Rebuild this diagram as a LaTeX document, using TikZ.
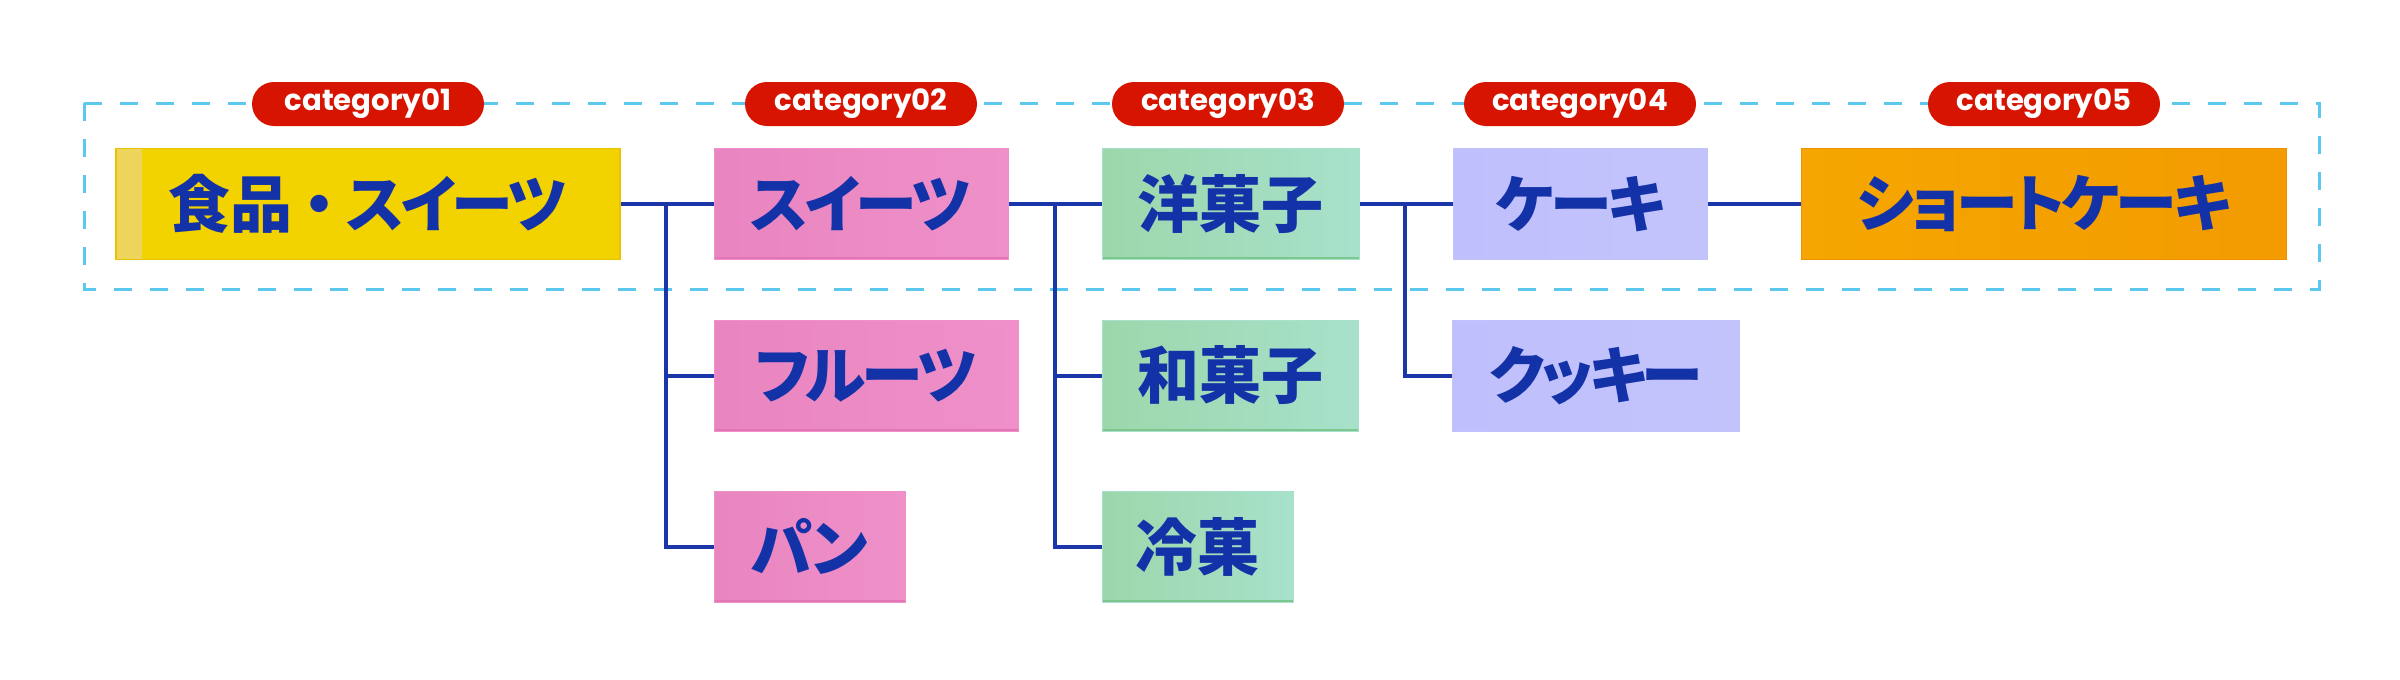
\documentclass[tikz,border=0pt]{standalone}
\usepackage{fontspec}
\newfontfamily\jpfont{Noto Sans CJK JP}[RawFeature=+palt]
\newfontfamily\jpkana{Noto Sans CJK JP}[RawFeature=+palt, LetterSpace=-6]
\newfontfamily\jpfull{Noto Sans CJK JP}
\newfontfamily\catfont{Poppins}
\definecolor{txtblue}{HTML}{1432A8}
\definecolor{linkblue}{HTML}{1A36A8}
\definecolor{dashcyan}{HTML}{5CC8EE}
\definecolor{pillred}{HTML}{D61400}
\definecolor{ylwA}{HTML}{EDD45E}
\definecolor{ylwB}{HTML}{F2D300}
\definecolor{ylwD}{HTML}{E9C300}
\definecolor{pnkA}{HTML}{E985C0}
\definecolor{pnkB}{HTML}{EF90C9}
\definecolor{pnkD}{HTML}{E475B4}
\definecolor{grnA}{HTML}{9CD7AB}
\definecolor{grnB}{HTML}{A7E1CB}
\definecolor{grnD}{HTML}{7DC78F}
\definecolor{lavA}{HTML}{BFBFFD}
\definecolor{lavB}{HTML}{C3C3FC}
\definecolor{orgA}{HTML}{F5A600}
\definecolor{orgB}{HTML}{F39B00}
\definecolor{orgD}{HTML}{EE9300}
\tikzset{
  tbox/.style={rectangle, inner sep=0pt, minimum height=55.5pt,
    font=\jpfont\bfseries\fontsize{31pt}{36pt}\selectfont, text=txtblue},
  btm/.style={path picture={\draw[line width=1.2pt,#1]
    ([yshift=0.6pt]path picture bounding box.south west) --
    ([yshift=0.6pt]path picture bounding box.south east);}},
  yellowbox/.style={tbox, fill=ylwB, draw=ylwD, line width=0.6pt,
    path picture={\shade[left color=ylwA, right color=ylwB]
      (path picture bounding box.south west) rectangle
      ([xshift=13pt]path picture bounding box.north west);}},
  pinkbox/.style={tbox, left color=pnkA, right color=pnkB, draw=pnkB, line width=0.5pt, btm=pnkD},
  greenbox/.style={tbox, left color=grnA, right color=grnB, draw=grnB, line width=0.5pt, btm=grnD},
  lavbox/.style={tbox, left color=lavA, right color=lavB, draw=lavB, line width=0.5pt},
  orangebox/.style={tbox, left color=orgA, right color=orgB, draw=orgD, line width=0.5pt},
  pill/.style={rectangle, rounded corners=11pt, fill=pillred, text=white,
    minimum width=116pt, minimum height=22pt, inner sep=0pt,
    font=\catfont\bfseries\fontsize{14.6pt}{16pt}\selectfont},
  link/.style={draw=linkblue, line width=2pt, line join=miter},
  frame/.style={draw=dashcyan, line width=1.5pt, dash pattern=on 9pt off 9pt}
}
\begin{document}
\begin{tikzpicture}[x=0.5pt, y=-0.5pt]
\useasboundingbox (0,0) rectangle (2400,680);
% dashed frame
\draw[frame] (84,103) rectangle (2319,289);
% pills
\node[pill] (c1) at (368,104) {category01};
\node[pill] (c2) at (861,104) {category02};
\node[pill] (c3) at (1228,104) {category03};
\node[pill] (c4) at (1580,104) {category04};
\node[pill] (c5) at (2044,104) {category05};
% boxes
\node[yellowbox, minimum width=252pt] (A) at (368,204) {食品\kern-2pt{\jpfull ・}\kern-2pt{\jpkana スイーツ}};
\node[pinkbox, minimum width=147pt] (B) at (861,204) {\jpkana スイーツ};
\node[pinkbox, minimum width=152pt] (C) at (866,375.5) {\jpkana フルーツ};
\node[pinkbox, minimum width=95.5pt] (D) at (809.5,546.5) {\jpkana パン};
\node[greenbox, minimum width=128.5pt] (E) at (1230.5,204) {洋菓子};
\node[greenbox, minimum width=128pt] (F) at (1230,375.5) {和菓子};
\node[greenbox, minimum width=95.5pt] (G) at (1197.5,546.5) {冷菓};
\node[lavbox, minimum width=127pt] (H) at (1580,204) {\jpkana ケーキ};
\node[lavbox, minimum width=143.5pt] (I) at (1596,375.5) {\jpkana クッキー};
\node[orangebox, minimum width=242.5pt] (J) at (2043.5,204) {\jpkana ショートケーキ};
% junctions
\coordinate (j1) at (666,204);
\coordinate (j2) at (1055,204);
\coordinate (j3) at (1405,204);
% connectors
\draw[link] (A.east) -- (B.west);
\draw[link] (j1) |- (D.west);
\draw[link] (j1 |- C.west) -- (C.west);
\draw[link] (B.east) -- (E.west);
\draw[link] (j2) |- (G.west);
\draw[link] (j2 |- F.west) -- (F.west);
\draw[link] (E.east) -- (H.west);
\draw[link] (j3) |- (I.west);
\draw[link] (H.east) -- (J.west);
\end{tikzpicture}
\end{document}
